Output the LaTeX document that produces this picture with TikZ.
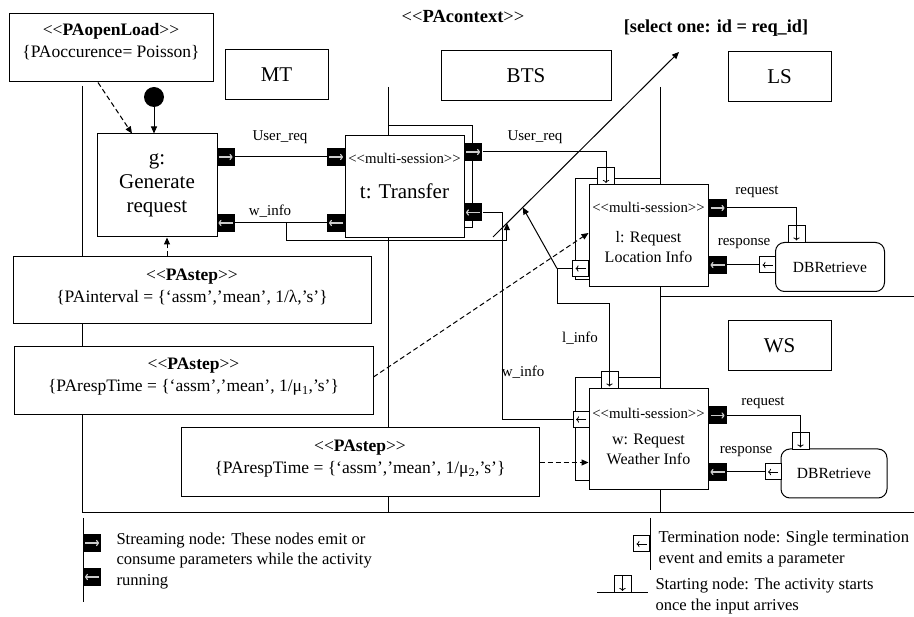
\documentclass[tikz,border=0pt]{standalone}
\usepackage{fontspec}
\setmainfont{Liberation Serif}
\usetikzlibrary{arrows.meta,calc,positioning}
\newcommand{\stOpen}{<\kern0pt<}
\newcommand{\stClose}{>\kern0pt>}

\begin{document}
\begin{tikzpicture}[x=1pt, y=-1pt, line width=1pt,
  >={Triangle[length=7pt,width=6pt]},
  lanebox/.style={draw, minimum width=103, minimum height=50, font=\fontsize{21}{24}\selectfont},
  actbox/.style={draw, fill=white, inner sep=0pt},
  notebox/.style={draw, fill=white},
  notetext/.style={align=center, font=\fontsize{17.5}{22}\selectfont},
  mstext/.style={inner sep=0pt, font=\fontsize{14.8}{16}\selectfont},
  bigtext/.style={align=center, font=\fontsize{21}{24}\selectfont},
  midtext/.style={align=center, font=\fontsize{16}{20}\selectfont},
  lbl/.style={inner sep=1pt, font=\fontsize{15}{17}\selectfont},
  legtext/.style={align=left, inner sep=0pt, font=\fontsize{16.6}{20.5}\selectfont},
  dbbox/.style={draw, fill=white, rounded corners=9pt, minimum height=49, font=\fontsize{15.5}{18}\selectfont},
  streamR/.style={fill=black, minimum width=18, minimum height=18, inner sep=0pt,
    path picture={\draw[white!80!black, line width=1.2pt, -{To[length=3pt]}]
      ([xshift=2]path picture bounding box.west) -- ([xshift=-2]path picture bounding box.east);}},
  streamL/.style={fill=black, minimum width=18, minimum height=18, inner sep=0pt,
    path picture={\draw[white!80!black, line width=1.2pt, -{To[length=3pt]}]
      ([xshift=-2]path picture bounding box.east) -- ([xshift=2]path picture bounding box.west);}},
  termnode/.style={draw, fill=white, minimum size=16, inner sep=0pt,
    path picture={\draw[line width=0.8pt, -{To[length=3pt]}]
      ([xshift=-3]path picture bounding box.east) -- ([xshift=3]path picture bounding box.west);}},
  startnode/.style={draw, fill=white, minimum size=17, inner sep=0pt,
    path picture={\draw[line width=0.8pt, -{To[length=3pt]}]
      (path picture bounding box.north) -- ([yshift=2]path picture bounding box.south);}},
  dashlink/.style={dash pattern=on 5pt off 3pt, ->}
]
\useasboundingbox (0,0) rectangle (914,617);

% swimlanes
\draw (82,86) -- (82,513);
\draw (388,87) -- (388,513);
\draw (660,87) -- (660,513);
\draw (660,297) -- (914,297);
\draw (82,513) -- (914,513);

\node[lanebox] (mt) at (276.5,75) {MT};
\node[lanebox, minimum width=170] (bts) at (526,75.5) {BTS};
\node[lanebox] (ls) at (779.5,76.5) {LS};
\node[lanebox] (ws) at (779.5,346) {WS};

% titles
\node[font=\fontsize{18.5}{20}\selectfont] (ctx) at (463,16) {\stOpen\textbf{PAcontext}\stClose};
\node[font=\bfseries\fontsize{18.3}{20}\selectfont] (selone) at (716,28) {[select one: id = req\_id]};

% open load
\node[notebox, minimum width=204, minimum height=68] (openload) at (111,48) {};
\node[notetext] (openloadtxt) at (111,42) {\stOpen\textbf{PAopenLoad}\stClose\\\{PAoccurence= Poisson\}};

\node[circle, fill=black, minimum size=20, inner sep=0pt] (init) at (154,97) {};

% multi-session stacks
\draw[fill=white] (388,126) rectangle (472,228);
\draw[fill=white] (575,179) rectangle (660,280);
\draw[fill=white] (575,378) rectangle (660,481);

% activities
\node[actbox, minimum width=120, minimum height=103, align=center, font=\fontsize{21}{24}\selectfont] (g) at (157,185.5) {g:\\Generate\\request};
\node[actbox, minimum width=119, minimum height=102] (t) at (404.5,187) {};
\node[mstext] (tst) at (404.5,158) {\stOpen multi-session\stClose};
\node[bigtext] (tname) at (404.5,191) {t: Transfer};
\node[actbox, minimum width=119, minimum height=102] (l) at (648.5,236) {};
\node[mstext] (lst) at (648.5,207) {\stOpen multi-session\stClose};
\node[midtext] (lname) at (648.5,247) {l: Request\\Location Info};
\node[actbox, minimum width=119, minimum height=101] (w) at (648.5,439.5) {};
\node[mstext] (wst) at (648.5,413) {\stOpen multi-session\stClose};
\node[midtext] (wname) at (648.5,449.5) {w: Request\\Weather Info};

\node[dbbox, minimum width=109] (db1) at (830,267) {DBRetrieve};
\node[dbbox, minimum width=106] (db2) at (834,473.5) {DBRetrieve};

% steps
\node[notebox, minimum width=358, minimum height=67] (step1) at (192,290.5) {};
\node[notetext] (step1txt) at (192,287.5) {\stOpen\textbf{PAstep}\stClose\\\{PAinterval = \{`assm','mean', 1/λ,'s'\}};
\node[notebox, minimum width=359, minimum height=68] (step2) at (193.5,381) {};
\node[notetext] (step2txt) at (193.5,377) {\stOpen\textbf{PAstep}\stClose\\\{PArespTime = \{`assm','mean', 1/μ\textsubscript{1},'s'\}};
\node[notebox, minimum width=358, minimum height=69] (step3) at (360,462.5) {};
\node[notetext] (step3txt) at (360,459) {\stOpen\textbf{PAstep}\stClose\\\{PArespTime = \{`assm','mean', 1/μ\textsubscript{2},'s'\}};

% ports
\node[streamR] (gu) at (225.5,157) {};
\node[streamL] (gw) at (225.5,223) {};
\node[streamR] (tin) at (336,157) {};
\node[streamL] (tw) at (336,223) {};
\node[streamR] (tu) at (473,152) {};
\node[streamL] (tw2) at (473,212.5) {};
\node[startnode] (lstart) at (606,176.5) {};
\node[termnode] (lterm) at (580.5,268.5) {};
\node[streamR] (lu) at (717.5,208) {};
\node[streamL] (lw) at (717.5,265) {};
\node[startnode] (db1start) at (796.5,234) {};
\node[termnode] (db1term) at (767.5,265) {};
\node[startnode] (wstart) at (609.5,380) {};
\node[termnode] (wterm) at (581,419.5) {};
\node[streamR] (wu) at (717.5,415.5) {};
\node[streamL] (wd) at (717.5,472) {};
\node[startnode] (db2start) at (800.5,441) {};
\node[termnode] (db2term) at (773,472) {};

% connectors
\draw[->] (init) -- (init |- g.north);
\draw[dashlink] ([xshift=-13]openload.south) -- ([xshift=-25]g.north);
\draw[dashlink] ([xshift=10]g.south |- step1.north) -- ([xshift=10]g.south);
\draw[dashlink] ([yshift=4]step2.east) -- ([yshift=3]l.west);
\draw[dashlink] (step3.east) -- (step3.east -| w.west);

\draw (gu.east) -- (tin.west);
\draw (tw.west) -- (gw.east);
\draw (tu.east) -| (lstart.north);
\draw (wterm.west) -| ([xshift=20]tw2.east) -- (tw2.east);
\draw (lterm.west) -- ++(-15,0) coordinate (lbr) -- ++(0,35) -| (wstart.north);
\draw (lu.east) -| (db1start.north);
\draw (db1term.west) -- (lw.east);
\draw (wu.east) -| (db2start.north);
\draw (db2term.west) -- (wd.east);

% select one
\coordinate (selA) at (493,237);
\coordinate (selB) at (679,52);
\coordinate (selC) at ($(selA)!0.075!(selB)$);
\coordinate (selD) at ($(selA)!0.16!(selB)$);
\coordinate (wbr) at (286,0);
\draw[->] (selA) -- (selB);
\draw[->] (wbr |- gw) -- ++(0,18) -| (selC);
\draw[->] (lbr) -- (selD);

% labels
\node[lbl] (ureq1) at (280,137) {User\_req};
\node[lbl] (winfo1) at (270,211) {w\_info};
\node[lbl] (ureq2) at (535,137) {User\_req};
\node[lbl] (req1) at (757,192) {request};
\node[lbl] (resp1) at (744,244) {response};
\node[lbl] (linfo) at (580,338) {l\_info};
\node[lbl] (winfo2) at (523,372) {w\_info};
\node[lbl] (req2) at (763,403) {request};
\node[lbl] (resp2) at (746,452) {response};

% legend
\draw (83,518) -- (83,602);
\node[streamR] (legout) at (92,543) {};
\node[streamL] (legin) at (92,577) {};
\node[legtext, anchor=west] (legstream) at (116,561) {Streaming node: These nodes emit or\\consume parameters while the activity\\running};
\draw (650,518) -- (650,570);
\node[termnode] (legterm) at (641.5,544) {};
\node[legtext, anchor=west] (legtermtxt) at (658,549) {Termination node: Single termination\\event and emits a parameter};
\draw (597,593) -- (648,593);
\node[startnode] (legstart) at (622.5,584.5) {};
\node[legtext, anchor=west] (legstarttxt) at (655,596) {Starting node: The activity starts\\once the input arrives};
\end{tikzpicture}
\end{document}
